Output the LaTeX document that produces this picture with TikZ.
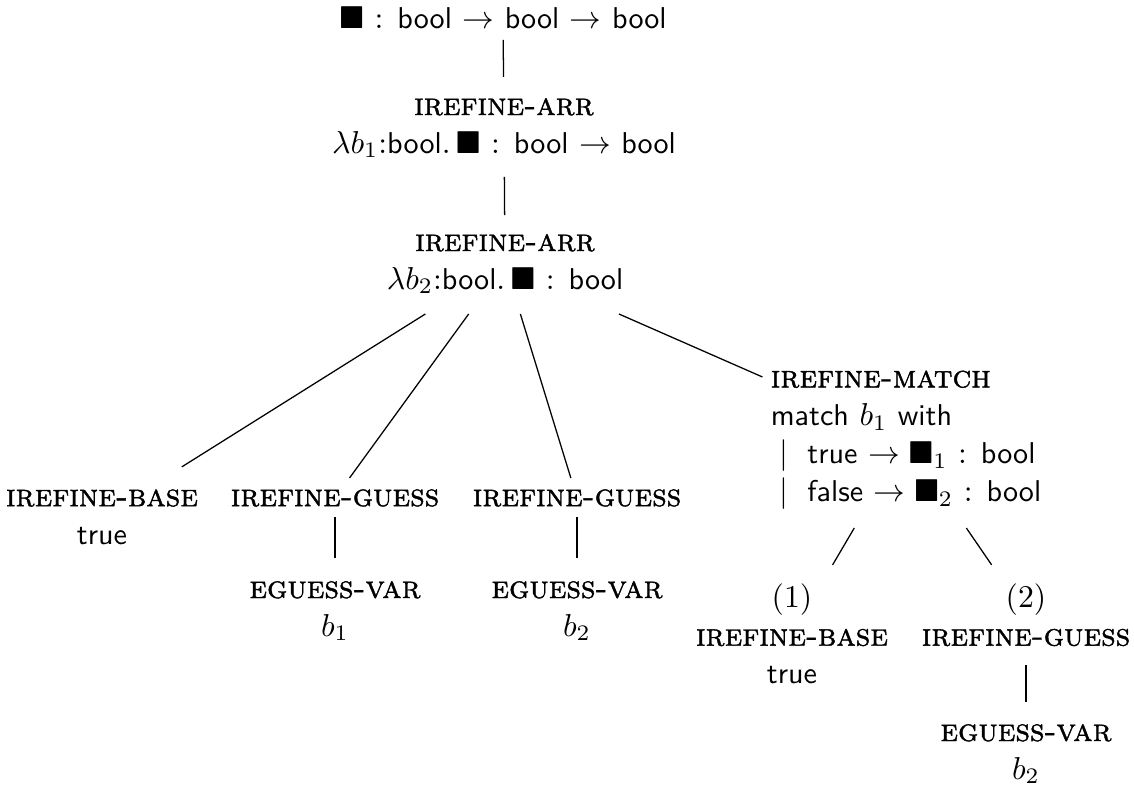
\documentclass[tikz,border=0pt]{standalone}
\usepackage{amssymb}
\usepackage{fontspec}
\newfontfamily\rlfont{lmromancaps10-regular.otf}[FakeBold=1.3]
\usetikzlibrary{calc}
\tikzset{
  lbl/.style={align=center, inner sep=0pt},
  lblleft/.style={align=left, inner sep=0pt},
  edge/.style={draw=black, line width=0.4pt}
}
\newcommand{\rl}[1]{{\rlfont #1}}
\newcommand{\ty}[1]{{\fontsize{9.5}{12}\sffamily #1}}
\begin{document}
\begin{tikzpicture}[x=0.3155pt,y=-0.3155pt]
\useasboundingbox (0,0) rectangle (1134,789);
% nodes
\node[lbl] (R) at (503,18) {$\blacksquare$ : \ty{bool} $\rightarrow$ \ty{bool} $\rightarrow$ \ty{bool}};
\node[lbl] (N1) at (504,128) {\rl{irefine-arr}\\ $\lambda b_1$:\ty{bool}.\,$\blacksquare$ : \ty{bool} $\rightarrow$ \ty{bool}};
\node[lbl] (N2) at (505,264) {\rl{irefine-arr}\\ $\lambda b_2$:\ty{bool}.\,$\blacksquare$ : \ty{bool}};
\node[lbl] (A) at (102,517) {\rl{irefine-base}\\ \ty{true}};
\node[lbl] (B) at (335,498) {\rl{irefine-guess}};
\node[lbl] (Bc) at (335,611) {\rl{eguess-var}\\ $b_1$};
\node[lbl] (C) at (577,498) {\rl{irefine-guess}};
\node[lbl] (Cc) at (577,611) {\rl{eguess-var}\\ $b_2$};
\node[lblleft] (M) at (906,440) {\rl{irefine-match}\\
  \ty{match} $b_1$ \ty{with}\\
  \hspace*{2.6pt}$\mid$\hspace{6.2pt}\ty{true} $\rightarrow \blacksquare_1$ : \ty{bool}\\
  \hspace*{2.6pt}$\mid$\hspace{6.2pt}\ty{false} $\rightarrow \blacksquare_2$ : \ty{bool}};
\node[lbl] (D) at (792,634) {(1)\\ \rl{irefine-base}\\ \ty{true}};
\node[lbl] (E) at (1026,615) {(2)\\ \rl{irefine-guess}};
\node[lbl] (Ec) at (1026,754) {\rl{eguess-var}\\ $b_2$};
% connectors
\draw[edge] ($(R)!0.2!(N1)$) -- ($(R)!0.536!(N1)$);
\draw[edge] ($(N1)!0.36!(N2)$) -- ($(N1)!0.64!(N2)$);
\draw[edge] ($(N2)!0.1976!(A)$) -- ($(N2)!0.802!(A)$);
\draw[edge] ($(N2)!0.2137!(B)$) -- ($(N2)!0.9145!(B)$);
\draw[edge] ($(N2)!0.2137!(C)$) -- ($(N2)!0.9145!(C)$);
\draw[edge] ($(N2)!0.284!(M)$) -- ($(N2)!0.642!(M)$);
\draw[edge] ($(B)!0.168!(Bc)$) -- ($(B)!0.531!(Bc)$);
\draw[edge] ($(C)!0.168!(Cc)$) -- ($(C)!0.531!(Cc)$);
\draw[edge] ($(M)!0.4536!(D)$) -- ($(M)!0.644!(D)$);
\draw[edge] ($(M)!0.503!(E)$) -- ($(M)!0.714!(E)$);
\draw[edge] ($(E)!0.36!(Ec)$) -- ($(E)!0.626!(Ec)$);
\end{tikzpicture}
\end{document}
